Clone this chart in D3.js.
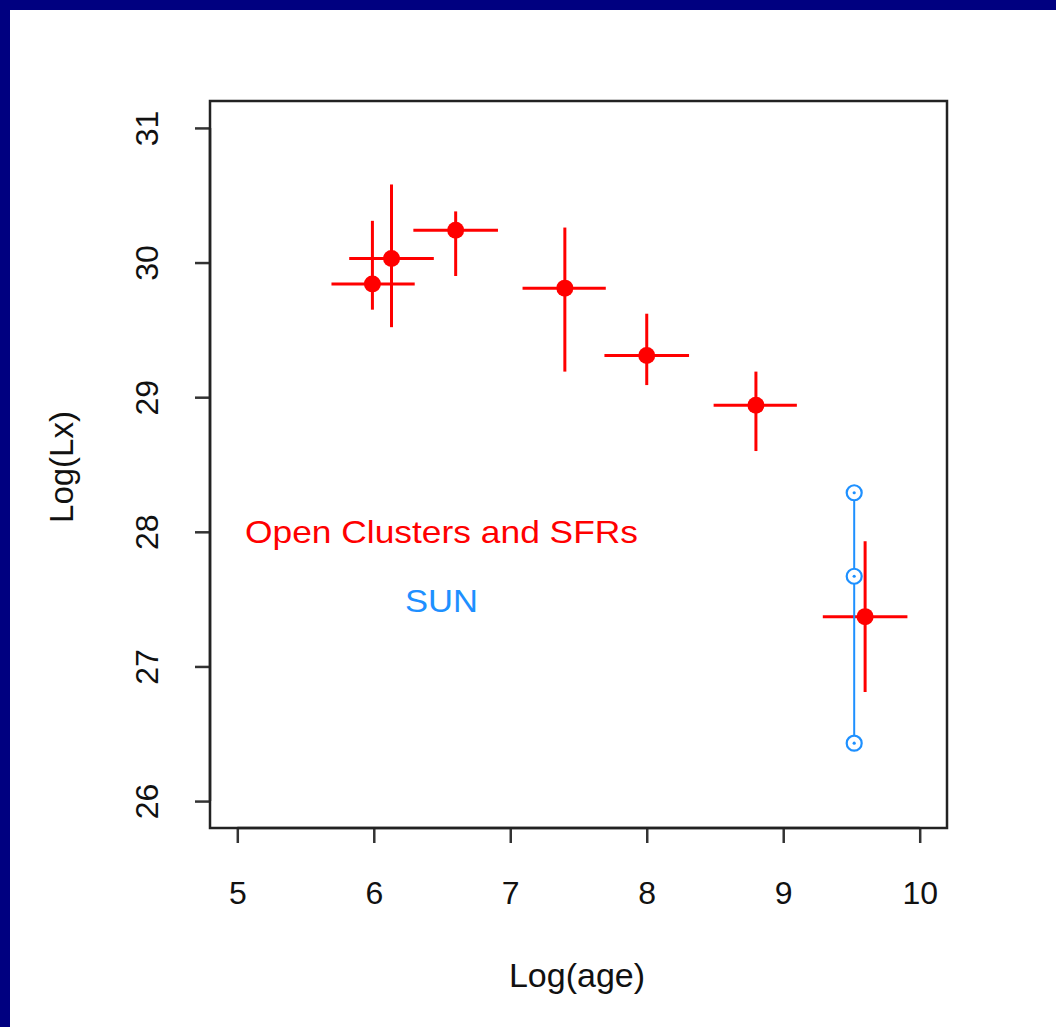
<!DOCTYPE html>
<html><head><meta charset="utf-8">
<script src="https://cdn.jsdelivr.net/npm/d3@7"></script>
<style>html,body{margin:0;padding:0;background:#fff;overflow:hidden}</style>
</head><body>
<script>
// Data
const ages   = [5.99, 6.13, 6.60, 7.40, 8.00, 8.80, 9.60];
const ageLo  = [5.69, 5.82, 6.29, 7.09, 7.69, 8.49, 9.29];
const ageHi  = [6.30, 6.44, 6.91, 7.70, 8.31, 9.10, 9.91];
const lx     = [29.84, 30.03, 30.24, 29.81, 29.31, 28.94, 27.37];
const lxLo   = [29.65, 29.52, 29.90, 29.19, 29.09, 28.60, 26.81];
const lxHi   = [30.31, 30.58, 30.38, 30.26, 29.62, 29.19, 27.93];
const sunAge = [9.52, 9.52, 9.52];
const sunLx  = [28.29, 27.67, 26.43];
const xTicks = [5, 6, 7, 8, 9, 10];
const yTicks = [26, 27, 28, 29, 30, 31];

const W = 1056, H = 1027;
const box = {l: 210, r: 947, t: 101, b: 828};
const svg = d3.select("body").append("svg").attr("width", W).attr("height", H)
  .style("font-family", "'Liberation Sans', Arial, Helvetica, sans-serif");

svg.append("rect").attr("width", W).attr("height", H).attr("fill", "#000080");
svg.append("rect").attr("x", 10).attr("y", 10).attr("width", W - 10).attr("height", H - 10).attr("fill", "#fff");

const x = d3.scaleLinear().domain([4.8, 10.2]).range([box.l, box.r]);
const y = d3.scaleLinear().domain([25.8, 31.2]).range([box.b, box.t]);

// axes
const xAxis = d3.axisBottom(x).tickValues(xTicks).tickSize(15).tickPadding(38).tickFormat(d3.format("d"));
const gx = svg.append("g").attr("transform", `translate(0,${box.b})`).call(xAxis);
gx.select(".domain").attr("d", `M${x(5)},0H${x(10)}`).attr("stroke", "#333").attr("stroke-width", 2.5);
gx.selectAll(".tick line").attr("stroke", "#333").attr("stroke-width", 2.5);
gx.selectAll(".tick text").attr("font-size", 32).attr("fill", "#111").attr("font-family", "'Liberation Sans', Arial, sans-serif");

const yAxis = d3.axisLeft(y).tickValues(yTicks).tickSize(15).tickFormat(d3.format("d"));
const gy = svg.append("g").attr("transform", `translate(${box.l},0)`).call(yAxis);
gy.select(".domain").attr("d", `M0,${y(26)}V${y(31)}`).attr("stroke", "#333").attr("stroke-width", 2.5);
gy.selectAll(".tick line").attr("stroke", "#333").attr("stroke-width", 2.5);
gy.selectAll(".tick text")
  .attr("font-size", 32).attr("fill", "#111").attr("font-family", "'Liberation Sans', Arial, sans-serif")
  .attr("text-anchor", "middle").attr("dy", 0).attr("x", 0)
  .attr("transform", "translate(-52,0) rotate(-90)");

// box
svg.append("rect").attr("x", box.l).attr("y", box.t).attr("width", box.r - box.l).attr("height", box.b - box.t)
  .attr("fill", "none").attr("stroke", "#222").attr("stroke-width", 2.5);

// axis titles
svg.append("text").attr("x", 577).attr("y", 987).attr("text-anchor", "middle")
  .attr("font-size", 34).attr("fill", "#111").text("Log(age)");
svg.append("text").attr("transform", "translate(73,467) rotate(-90)").attr("text-anchor", "middle")
  .attr("font-size", 33).attr("fill", "#111").text("Log(Lx)");

// red error bars
const red = "#ff0000";
const idx = d3.range(ages.length);
const g = svg.append("g");
g.selectAll("line.h").data(idx).join("line").attr("class", "h")
  .attr("x1", i => x(ageLo[i])).attr("x2", i => x(ageHi[i]))
  .attr("y1", i => y(lx[i])).attr("y2", i => y(lx[i]))
  .attr("stroke", red).attr("stroke-width", 3);
g.selectAll("line.v").data(idx).join("line").attr("class", "v")
  .attr("x1", i => x(ages[i])).attr("x2", i => x(ages[i]))
  .attr("y1", i => y(lxLo[i])).attr("y2", i => y(lxHi[i]))
  .attr("stroke", red).attr("stroke-width", 3);
g.selectAll("circle").data(idx).join("circle")
  .attr("cx", i => x(ages[i])).attr("cy", i => y(lx[i])).attr("r", 8.5).attr("fill", red);

// sun
const blue = "#1e90ff";
const sg = svg.append("g");
const sunIdx = d3.range(sunAge.length);
sg.append("path")
  .attr("d", d3.line().x(i => x(sunAge[i])).y(i => y(sunLx[i]))(sunIdx))
  .attr("fill", "none").attr("stroke", blue).attr("stroke-width", 2);
sg.selectAll("circle.o").data(sunIdx).join("circle").attr("class", "o")
  .attr("cx", i => x(sunAge[i])).attr("cy", i => y(sunLx[i])).attr("r", 7.5)
  .attr("fill", "#fff").attr("stroke", blue).attr("stroke-width", 2.2);
sg.selectAll("circle.d").data(sunIdx).join("circle").attr("class", "d")
  .attr("cx", i => x(sunAge[i])).attr("cy", i => y(sunLx[i])).attr("r", 1.6).attr("fill", blue);

// labels
svg.append("text").attr("x", 245).attr("y", 543).attr("font-size", 32).attr("fill", red)
  .attr("textLength", 393).attr("lengthAdjust", "spacingAndGlyphs").text("Open Clusters and SFRs");
svg.append("text").attr("x", 405).attr("y", 612).attr("font-size", 31).attr("fill", blue)
  .attr("textLength", 73).attr("lengthAdjust", "spacingAndGlyphs").text("SUN");
</script>
</body></html>
